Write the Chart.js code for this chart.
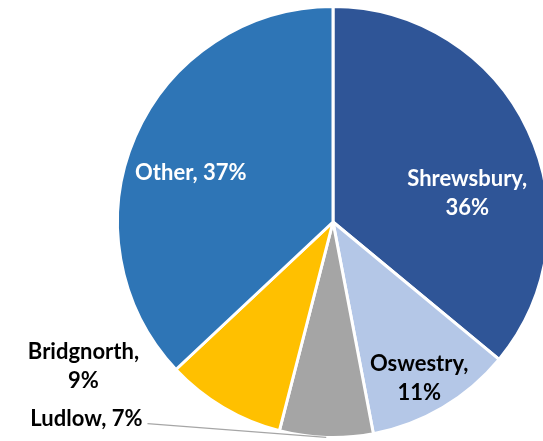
<!DOCTYPE html>
<html>
<head>
<meta charset="utf-8">
<script src="https://cdn.jsdelivr.net/npm/chart.js@4.4.1/dist/chart.umd.min.js"></script>
<style>
  html, body { margin: 0; padding: 0; background: #fff; overflow: hidden; width: 543px; height: 441px; }
  #wrap { position: absolute; left: 0; top: 5px; width: 666px; height: 434px; }
</style>
</head>
<body>
<div id="wrap"><canvas id="c" width="666" height="434"></canvas></div>
<script>
const categories = ["Shrewsbury", "Oswestry", "Ludlow", "Bridgnorth", "Other"];
const shares = [36, 11, 7, 9, 37];
const colors = ["#2F5597", "#B4C7E7", "#A5A5A5", "#FFC000", "#2E75B6"];

// label layout (relative to pie centre, in units of radius), colour, and line breaks
const labelLayout = {
  Shrewsbury: { fx: 0.623, fy: -0.133, color: "#ffffff", split: true },
  Oswestry:   { fx: 0.40,  fy: 0.728,  color: "#000000", split: true },
  Ludlow:     { fx: -1.144, fy: 0.912, color: "#000000", split: false, leader: true },
  Bridgnorth: { fx: -1.158, fy: 0.672, color: "#000000", split: true },
  Other:      { fx: -0.660, fy: -0.228, color: "#ffffff", split: false }
};

const labelPlugin = {
  id: 'pieLabels',
  afterDatasetsDraw(chart) {
    const ctx = chart.ctx;
    const meta = chart.getDatasetMeta(0);
    ctx.save();
    ctx.font = "bold 22px Lato, 'Open Sans', sans-serif";
    ctx.textAlign = "center";
    ctx.textBaseline = "middle";
    meta.data.forEach((arc, i) => {
      const name = categories[i];
      const L = labelLayout[name];
      const r = arc.outerRadius;
      const x = arc.x + L.fx * r;
      const y = arc.y + L.fy * r;
      const pct = shares[i] + "%";
      if (L.leader) {
        const mid = (arc.startAngle + arc.endAngle) / 2;
        const ex = arc.x + Math.cos(mid) * r;
        const ey = arc.y + Math.sin(mid) * r;
        ctx.strokeStyle = "#A6A6A6";
        ctx.lineWidth = 1.2;
        ctx.beginPath();
        ctx.moveTo(x + 61, y + 5);
        ctx.lineTo(ex, ey);
        ctx.stroke();
      }
      ctx.fillStyle = L.color;
      if (L.split) {
        ctx.fillText(name + ",", x, y - 14.5);
        ctx.fillText(pct, x, y + 14.5);
      } else {
        ctx.fillText(name + ", " + pct, x, y);
      }
    });
    ctx.restore();
  }
};

new Chart(document.getElementById('c'), {
  type: 'pie',
  data: {
    labels: categories,
    datasets: [{
      data: shares,
      backgroundColor: colors,
      borderColor: "#ffffff",
      borderWidth: 3
    }]
  },
  options: {
    responsive: false,
    animation: false,
    devicePixelRatio: 1,
    layout: { padding: 0 },
    plugins: { legend: { display: false }, tooltip: { enabled: false } }
  },
  plugins: [labelPlugin]
});
</script>
</body>
</html>
